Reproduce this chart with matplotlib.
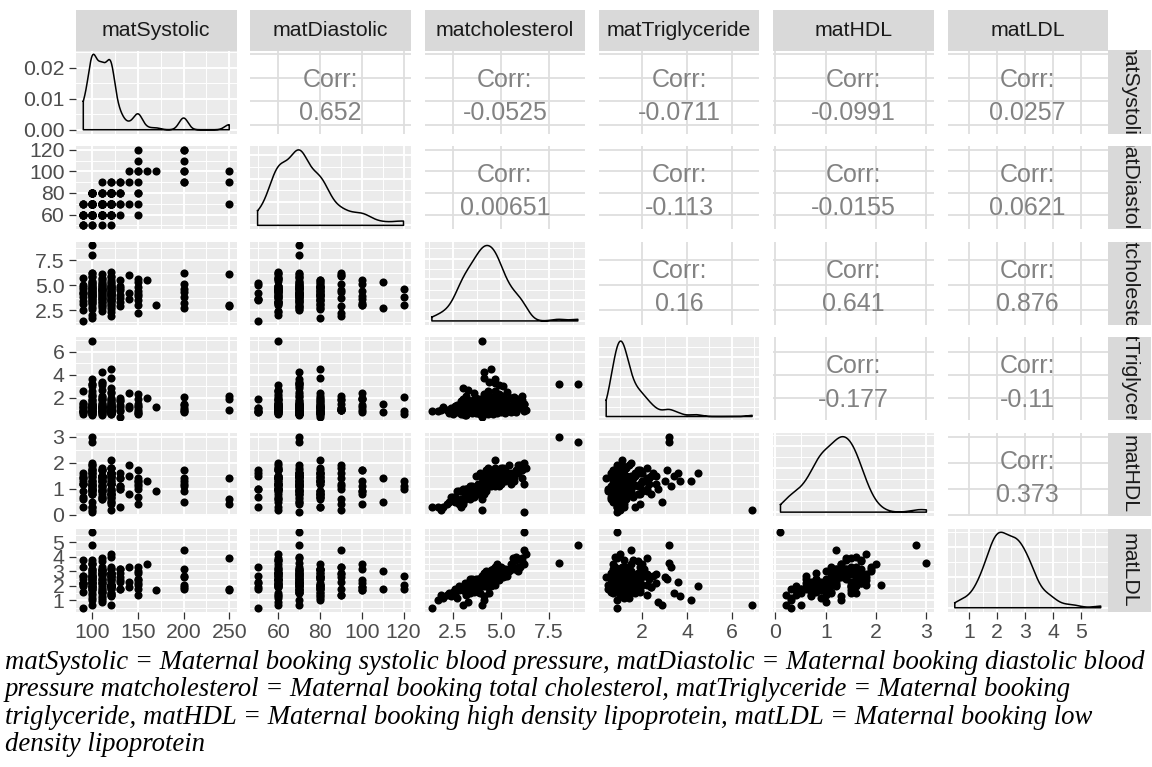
import numpy as np
import matplotlib.pyplot as plt
from matplotlib.ticker import MaxNLocator

plt.rcParams['font.family'] = ['Liberation Sans', 'DejaVu Sans']

# booking measurements, one entry per mother
mat_systolic = [
    100, 100, 100, 100, 250, 250, 250, 170, 160, 200,
    200, 200, 200, 200, 200, 200, 150, 150, 150, 150,
    150, 150, 150, 150, 150, 140, 140, 140, 130, 130,
    130, 130, 130, 130, 130, 130, 90, 90, 90, 90,
    90, 90, 90, 90, 90, 90, 90, 90, 100, 100,
    100, 100, 100, 100, 100, 100, 100, 100, 100, 100,
    100, 100, 100, 100, 100, 100, 100, 100, 100, 100,
    100, 100, 100, 100, 100, 100, 100, 100, 100, 100,
    100, 100, 100, 110, 110, 110, 110, 110, 110, 110,
    110, 110, 110, 110, 110, 110, 110, 110, 110, 110,
    110, 110, 110, 110, 110, 110, 110, 110, 110, 110,
    110, 110, 110, 120, 120, 120, 120, 120, 110, 120,
    120, 120, 120, 120, 120, 120, 120, 120, 120, 120,
    120, 120, 120, 120, 120, 120, 120, 120, 120, 120,
    120, 120, 120, 120, 120, 120, 120, 120, 120, 120,
]
mat_diastolic = [
    70, 70, 60, 70, 70, 90, 100, 100, 100, 90,
    90, 100, 100, 110, 120, 120, 60, 70, 80, 80,
    90, 100, 100, 110, 120, 70, 90, 100, 60, 70,
    70, 80, 80, 80, 90, 90, 50, 50, 50, 60,
    60, 60, 60, 60, 60, 70, 70, 70, 50, 50,
    60, 60, 60, 60, 60, 60, 60, 60, 60, 60,
    60, 60, 60, 70, 70, 70, 70, 70, 70, 70,
    70, 70, 70, 70, 70, 80, 80, 80, 80, 80,
    80, 80, 80, 50, 60, 60, 60, 60, 60, 60,
    60, 60, 60, 60, 70, 70, 70, 70, 70, 70,
    70, 70, 70, 70, 70, 70, 70, 70, 70, 80,
    80, 80, 80, 80, 80, 80, 80, 80, 90, 50,
    60, 60, 60, 60, 60, 60, 60, 70, 70, 70,
    70, 70, 70, 70, 70, 70, 70, 70, 70, 80,
    80, 80, 80, 80, 80, 80, 80, 80, 90, 90,
]
mat_cholesterol = [
    9.0, 8.0, 4.0, 6.2, 6.1, 2.9, 3.0, 3.0, 5.5, 6.2,
    4.3, 3.2, 5.1, 2.7, 4.6, 3.8, 5.6, 4.1, 3.5, 4.8,
    2.2, 4.4, 3.9, 5.3, 3.0, 4.2, 6.0, 3.6, 4.7, 3.3,
    4.9, 2.9, 4.0, 5.5, 3.7, 4.5, 1.4, 4.2, 5.0, 3.4,
    4.6, 3.1, 5.7, 4.3, 3.8, 2.5, 4.8, 4.1, 5.2, 3.6,
    4.4, 3.2, 6.2, 3.9, 4.7, 2.0, 4.2, 5.4, 3.3, 4.9,
    3.7, 4.5, 5.8, 2.8, 4.0, 4.6, 3.4, 5.1, 4.3, 3.9,
    4.7, 2.6, 4.1, 5.9, 3.5, 4.8, 3.1, 4.4, 5.3, 3.8,
    4.2, 1.7, 5.0, 3.6, 4.5, 3.0, 4.9, 4.0, 5.6, 3.3,
    4.6, 2.4, 4.3, 6.1, 3.7, 4.7, 3.9, 5.2, 3.2, 4.4,
    3.8, 5.0, 2.9, 4.2, 5.7, 3.4, 4.6, 4.1, 5.4, 3.6,
    4.5, 2.7, 4.8, 3.9, 5.5, 4.3, 3.1, 4.0, 5.1, 3.5,
    4.9, 2.3, 4.4, 6.3, 3.7, 4.7, 3.3, 4.2, 5.8, 3.8,
    4.1, 5.3, 2.8, 4.6, 3.6, 5.0, 4.3, 3.0, 4.8, 4.0,
    5.2, 3.4, 4.5, 2.6, 4.9, 3.5, 4.7, 4.1, 5.9, 1.9,
]
mat_triglyceride = [
    3.2, 3.2, 6.9, 0.9, 2.2, 1.0, 1.9, 1.2, 2.0, 1.5,
    1.1, 1.4, 1.0, 0.8, 2.1, 0.9, 1.3, 2.3, 0.7, 1.2,
    1.0, 0.8, 1.9, 1.5, 0.6, 1.3, 1.1, 2.4, 0.9, 1.2,
    1.4, 1.7, 0.4, 2.0, 1.0, 1.8, 0.9, 1.1, 0.8, 1.5,
    1.2, 0.9, 1.6, 2.6, 1.3, 0.6, 1.0, 0.8, 1.9, 1.1,
    1.4, 2.2, 1.5, 0.6, 2.6, 1.2, 1.0, 0.9, 1.8, 2.3,
    0.7, 1.6, 1.2, 1.0, 0.9, 1.1, 1.4, 3.0, 0.6, 1.3,
    3.6, 0.8, 1.7, 1.4, 1.1, 0.7, 0.5, 1.2, 1.0, 1.5,
    2.2, 0.9, 1.3, 0.8, 1.0, 1.3, 3.1, 1.2, 0.9, 2.7,
    0.8, 1.1, 1.9, 1.8, 1.2, 3.3, 1.0, 1.1, 0.5, 3.4,
    1.6, 1.2, 0.6, 0.7, 2.1, 1.0, 1.5, 4.2, 1.3, 1.9,
    0.9, 1.4, 1.1, 1.7, 0.8, 2.4, 1.1, 0.6, 2.2, 0.9,
    1.0, 0.7, 1.3, 1.0, 2.0, 1.1, 1.0, 1.5, 0.8, 0.7,
    1.3, 2.5, 1.2, 0.6, 1.4, 1.6, 0.9, 2.9, 1.8, 1.0,
    0.7, 1.6, 4.5, 1.3, 1.2, 0.8, 1.1, 3.7, 1.9, 1.0,
]
mat_hdl = [
    2.8, 3.0, 0.2, 0.1, 1.4, 0.6, 0.4, 0.9, 1.3, 1.2,
    1.4, 0.9, 1.7, 0.5, 1.3, 1.1, 1.3, 1.2, 0.7, 1.3,
    0.4, 1.7, 1.1, 1.4, 1.0, 1.5, 1.9, 0.8, 1.4, 1.0,
    1.1, 0.3, 1.4, 1.6, 1.0, 1.1, 0.3, 1.6, 1.5, 0.9,
    1.4, 0.6, 1.4, 1.2, 1.2, 0.7, 1.2, 1.3, 1.7, 1.0,
    1.3, 1.0, 2.0, 1.1, 1.5, 0.3, 1.0, 1.9, 0.8, 1.4,
    1.0, 1.2, 1.7, 0.9, 1.2, 1.2, 1.1, 1.3, 1.6, 0.8,
    1.6, 0.5, 1.5, 1.9, 1.1, 1.3, 0.9, 1.7, 1.6, 0.8,
    0.9, 0.3, 1.8, 0.7, 1.4, 0.6, 1.7, 1.1, 1.5, 1.0,
    1.5, 0.7, 1.2, 1.7, 1.5, 1.1, 0.9, 1.3, 1.0, 1.5,
    1.1, 1.4, 0.9, 1.7, 1.3, 0.6, 1.4, 1.3, 1.5, 0.8,
    1.3, 0.9, 1.5, 1.6, 1.2, 1.5, 0.8, 0.6, 1.8, 1.0,
    1.4, 0.5, 1.2, 1.8, 0.9, 1.8, 1.0, 1.5, 1.6, 0.9,
    0.8, 1.6, 0.4, 1.5, 0.8, 1.2, 1.8, 0.5, 1.6, 1.2,
    1.4, 0.7, 1.6, 0.7, 1.3, 0.8, 2.1, 1.3, 1.6, 0.2,
]
mat_ldl = [
    4.8, 3.6, 0.7, 5.7, 3.9, 1.8, 1.7, 1.7, 3.5, 4.5,
    2.6, 1.9, 3.2, 1.8, 2.7, 2.1, 3.3, 2.5, 2.1, 2.9,
    1.4, 2.4, 2.2, 3.0, 1.8, 2.3, 3.3, 1.9, 3.2, 1.8,
    2.4, 1.8, 2.6, 3.2, 2.3, 2.9, 0.5, 2.2, 3.3, 2.0,
    2.5, 2.2, 3.8, 2.2, 2.1, 1.6, 2.7, 2.7, 2.7, 1.9,
    2.7, 1.4, 3.5, 2.2, 2.8, 1.2, 3.0, 3.2, 1.9, 2.7,
    2.5, 2.4, 3.8, 1.7, 2.0, 3.2, 1.5, 2.6, 2.5, 2.3,
    2.3, 1.8, 2.0, 3.0, 2.2, 3.5, 1.8, 2.2, 2.9, 2.5,
    2.1, 1.0, 2.6, 2.3, 2.9, 1.9, 2.5, 2.7, 3.9, 0.9,
    2.9, 1.3, 2.4, 3.7, 1.7, 3.3, 2.2, 3.1, 2.1, 1.5,
    1.6, 2.8, 1.8, 2.2, 3.2, 2.5, 2.8, 1.0, 3.0, 1.6,
    3.1, 1.2, 3.1, 1.5, 3.2, 1.9, 1.9, 2.7, 2.8, 1.8,
    2.9, 1.5, 2.9, 4.2, 2.1, 2.4, 2.1, 2.1, 4.0, 2.3,
    2.9, 2.7, 2.0, 2.9, 2.0, 2.8, 2.1, 0.7, 2.5, 2.6,
    3.2, 1.8, 2.0, 1.4, 2.7, 2.5, 2.1, 1.3, 3.3, 1.4,
]

var_names = ['matSystolic', 'matDiastolic', 'matcholesterol',
             'matTriglyceride', 'matHDL', 'matLDL']
var_data = [mat_systolic, mat_diastolic, mat_cholesterol,
            mat_triglyceride, mat_hdl, mat_ldl]

# printed correlations, upper triangle row by row
corr_values = [
    ['0.652', '-0.0525', '-0.0711', '-0.0991', '0.0257'],
    ['0.00651', '-0.113', '-0.0155', '0.0621'],
    ['0.16', '0.641', '0.876'],
    ['-0.177', '-0.11'],
    ['0.373'],
]

axis_ticks = [[100, 150, 200, 250], [60, 80, 100, 120], [2.5, 5.0, 7.5],
              [2, 4, 6], [0, 1, 2, 3], [1, 2, 3, 4, 5]]
axis_labels = [['100', '150', '200', '250'], ['60', '80', '100', '120'],
               ['2.5', '5.0', '7.5'], ['2', '4', '6'], ['0', '1', '2', '3'],
               ['1', '2', '3', '4', '5']]
density_ticks = [0.00, 0.01, 0.02]
density_labels = ['0.00', '0.01', '0.02']

caption = ("matSystolic = Maternal booking systolic blood pressure, matDiastolic = Maternal booking diastolic blood\n"
           "pressure matcholesterol = Maternal booking total cholesterol, matTriglyceride = Maternal booking\n"
           "triglyceride, matHDL = Maternal booking high density lipoprotein, matLDL = Maternal booking low\n"
           "density lipoprotein")

W, H = 1152, 767
PANEL_BG = '#EBEBEB'
STRIP_BG = '#D9D9D9'
TICK_COL = '#4D4D4D'
FS = 15.3


def bw_nrd0(x):
    sd = np.std(x, ddof=1)
    q75, q25 = np.percentile(x, [75, 25])
    lo = min(sd, (q75 - q25) / 1.34)
    return 0.9 * lo * len(x) ** -0.2


def kde(x, grid):
    x = np.asarray(x, float)
    h = bw_nrd0(x)
    z = (grid[:, None] - x[None, :]) / h
    return np.exp(-0.5 * z ** 2).sum(axis=1) / (len(x) * h * np.sqrt(2 * np.pi))


def limits(v):
    v = np.asarray(v, float)
    r = v.max() - v.min()
    return v.min() - 0.05 * r, v.max() + 0.05 * r


def minors(ticks, lim):
    step = ticks[1] - ticks[0]
    cand = np.arange(ticks[0] - step / 2, ticks[-1] + step, step)
    return [c for c in cand if lim[0] <= c <= lim[1]]


def add_ax(x, y, w, h):
    return fig.add_axes([x / W, 1 - (y + h) / H, w / W, h / H])


def grid_lines(ax, xt, yt, xm, ym, color, major_w, minor_w):
    for v in xm:
        ax.axvline(v, color=color, lw=minor_w, zorder=0)
    for v in ym:
        ax.axhline(v, color=color, lw=minor_w, zorder=0)
    for v in xt:
        ax.axvline(v, color=color, lw=major_w, zorder=0)
    for v in yt:
        ax.axhline(v, color=color, lw=major_w, zorder=0)


fig = plt.figure(figsize=(W / 100, H / 100), dpi=100)

n = len(var_names)
col_x = [76 + j * 174.3 for j in range(n)]
row_y = [50.5 + i * 95.6 for i in range(n)]
pw, ph = 160.5, 83.0
lims = [limits(v) for v in var_data]

for i in range(n):
    for j in range(n):
        ax = add_ax(col_x[j], row_y[i], pw, ph)
        for s in ax.spines.values():
            s.set_visible(False)
        ax.set_xlim(*lims[j])
        xt = [t for t in axis_ticks[j] if lims[j][0] <= t <= lims[j][1]]
        xm = minors(axis_ticks[j], lims[j])

        if i == j:
            vals = np.asarray(var_data[j], float)
            gx = np.linspace(vals.min(), vals.max(), 512)
            gy = kde(vals, gx)
            top = gy.max()
            ax.set_ylim(-0.05 * top, 1.05 * top)
            ax.set_facecolor(PANEL_BG)
            if i == 0:
                yt = density_ticks
            else:
                yt = [t for t in MaxNLocator(nbins=4, steps=[1, 2, 2.5, 5, 10]).tick_values(0, top) if 0 <= t <= 1.05 * top]
            step = yt[1] - yt[0]
            ym = [t + step / 2 for t in [yt[0] - step] + list(yt) if -0.05 * top <= t + step / 2 <= 1.05 * top]
            grid_lines(ax, xt, yt, xm, ym, 'white', 1.4, 0.7)
            px = np.concatenate([gx, [gx[-1], gx[0], gx[0]]])
            py = np.concatenate([gy, [0, 0, gy[0]]])
            ax.plot(px, py, color='black', lw=1.1, zorder=3)
        elif i > j:
            ax.set_ylim(*lims[i])
            ax.set_facecolor(PANEL_BG)
            yt = [t for t in axis_ticks[i] if lims[i][0] <= t <= lims[i][1]]
            ym = minors(axis_ticks[i], lims[i])
            grid_lines(ax, xt, yt, xm, ym, 'white', 1.4, 0.7)
            ax.scatter(var_data[j], var_data[i], s=34, color='black', linewidths=0, zorder=3)
        else:
            ax.set_ylim(*lims[i])
            ax.set_facecolor('white')
            yt = [t for t in axis_ticks[i] if lims[i][0] <= t <= lims[i][1]]
            grid_lines(ax, xt, yt, [], [], '#DEDEDE', 1.3, 0)
            ax.text(0.5, 0.65, 'Corr:', transform=ax.transAxes, ha='center', va='center',
                    fontsize=18, color='#828282')
            ax.text(0.5, 0.25, corr_values[i][j - i - 1], transform=ax.transAxes,
                    ha='center', va='center', fontsize=18, color='#828282')

        ax.tick_params(length=4.8, width=0.9, color='#333333', labelcolor=TICK_COL,
                       labelsize=FS, pad=3.5)
        if j == 0:
            if i == 0:
                ax.set_yticks(density_ticks)
                ax.set_yticklabels(density_labels)
            else:
                ax.set_yticks(axis_ticks[i])
                ax.set_yticklabels(axis_labels[i])
        else:
            ax.set_yticks([])
        if i == n - 1:
            ax.set_xticks(axis_ticks[j])
            ax.set_xticklabels(axis_labels[j])
        else:
            ax.set_xticks([])

# column strips on top
for j in range(n):
    sa = add_ax(col_x[j], 10, pw, 40.5)
    sa.set_facecolor(STRIP_BG)
    sa.set_xticks([])
    sa.set_yticks([])
    for s in sa.spines.values():
        s.set_visible(False)
    sa.text(0.5, 0.5, var_names[j], transform=sa.transAxes, ha='center', va='center',
            fontsize=FS, color='#1A1A1A', clip_on=True)

# row strips on the right
for i in range(n):
    sa = add_ax(col_x[-1] + pw, row_y[i], 42.5, ph)
    sa.set_facecolor(STRIP_BG)
    sa.set_xticks([])
    sa.set_yticks([])
    for s in sa.spines.values():
        s.set_visible(False)
    sa.text(0.5, 0.5, var_names[i], transform=sa.transAxes, ha='center', va='center',
            rotation=-90, fontsize=FS, color='#1A1A1A', clip_on=True)

fig.text(5 / W, 1 - 650 / H, caption, ha='left', va='top', fontsize=19.3,
         family='Liberation Serif', style='italic', linespacing=1.13, color='black')

fig.savefig('out.png', dpi=100, facecolor='white')
